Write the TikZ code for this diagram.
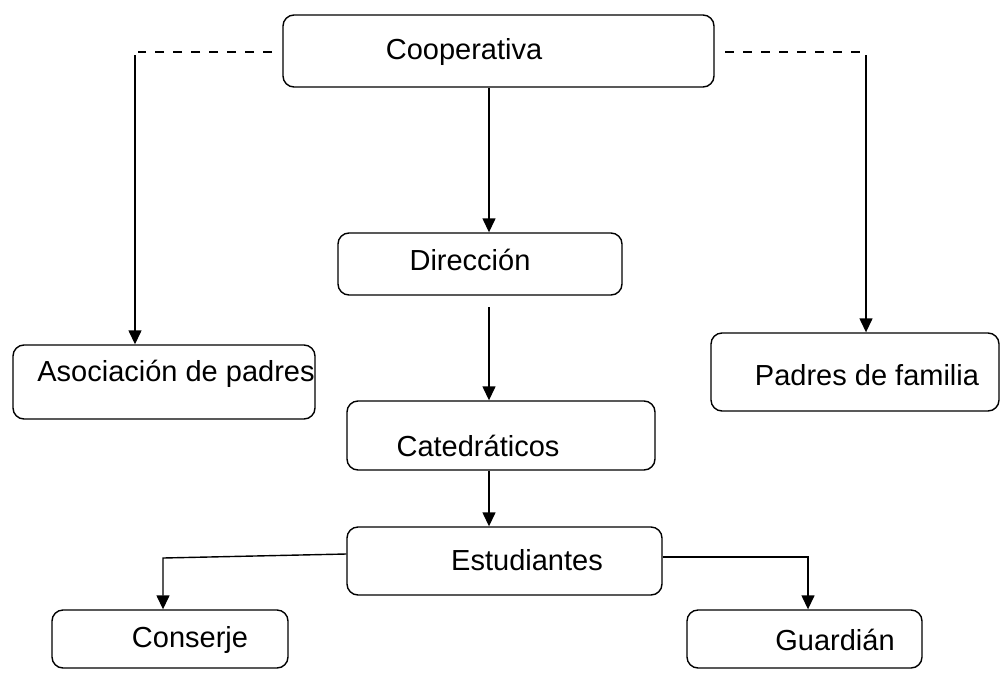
\documentclass[tikz,border=0pt]{standalone}
\usepackage{fontspec}
\setmainfont{Liberation Sans}
\usetikzlibrary{arrows.meta,calc}
\begin{document}
\begin{tikzpicture}[x=1pt,y=-1pt,
  box/.style={draw,line width=1.4pt,rounded corners=11pt,inner sep=0pt},
  lbl/.style={inner sep=0pt,font=\fontsize{29}{33}\selectfont},
  conn/.style={line width=1.4pt},
  arr/.style={line width=1.4pt,-{Triangle[length=14pt,width=13pt]}},
  dashline/.style={line width=1.6pt,dash pattern=on 9pt off 9pt}]
\useasboundingbox (0,0) rectangle (1000,672);
% boxes
\node[box,minimum width=431pt,minimum height=72pt] (coop) at (498.5,51) {};
\node[box,minimum width=284pt,minimum height=62pt] (dir) at (480,264) {};
\node[box,minimum width=308pt,minimum height=69pt] (cat) at (501,435.5) {};
\node[box,minimum width=315pt,minimum height=68pt] (est) at (504.5,561) {};
\node[box,minimum width=302pt,minimum height=74pt] (asoc) at (164,382) {};
\node[box,minimum width=288pt,minimum height=78pt] (pad) at (855,372) {};
\node[box,minimum width=236pt,minimum height=58pt] (cons) at (170,639) {};
\node[box,minimum width=235pt,minimum height=58pt] (guard) at (804.5,639) {};
% labels
\node[lbl] (coopt) at (464,52) {Cooperativa};
\node[lbl] (dirt) at (470,260) {Dirección};
\node[lbl] (catt) at (478,446) {Catedráticos};
\node[lbl] (estt) at (527,560) {Estudiantes};
\node[lbl] (asoct) at (176,374) {Asociación de padres};
\node[lbl] (padt) at (867,375) {Padres de familia};
\node[lbl] (const) at (190,640) {Conserje};
\node[lbl] (guardt) at (835,640) {Guardián};
% helper coordinates
\coordinate (cx) at (489,0);
\coordinate (dirout) at (489,307);
\coordinate (ldash1) at (272,52);
\coordinate (ldash2) at (138,52);
\coordinate (ltop) at (135,55);
\coordinate (rdash1) at (725,52);
\coordinate (rdash2) at (862,52);
\coordinate (rtop) at (866,55);
\coordinate (lbend) at (163,558);
\coordinate (rbend) at (808,557);
% connectors
\draw[arr] (coop.south -| cx) -- (dir.north -| cx);
\draw[arr] (dirout) -- (cat.north -| cx);
\draw[arr] (cat.south -| cx) -- (est.north -| cx);
\draw[dashline] (ldash1) -- (ldash2);
\draw[dashline] (rdash1) -- (rdash2);
\draw[arr] (ltop) -- (asoc.north -| ltop);
\draw[arr] (rtop) -- (pad.north -| rtop);
\draw[arr] ($(est.west)+(0,-7)$) -- (lbend) -- (cons.north -| lbend);
\draw[arr] (est.east |- rbend) -- (rbend) -- (guard.north -| rbend);
\end{tikzpicture}
\end{document}
